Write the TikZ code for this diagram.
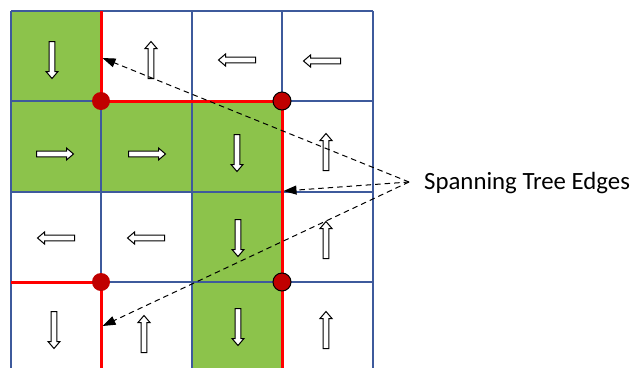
\documentclass[tikz,border=0pt]{standalone}
\usepackage{fontspec}
\setmainfont{Carlito}
\usetikzlibrary{arrows.meta}
\definecolor{gridblue}{RGB}{62,90,156}
\definecolor{cellgreen}{RGB}{140,195,75}
\definecolor{edgered}{RGB}{255,0,0}
\definecolor{dotred}{RGB}{192,0,0}
\tikzset{
  gridline/.style={draw=gridblue, line width=2pt},
  greencell/.style={fill=cellgreen},
  treeedge/.style={draw=edgered, line width=3pt},
  rootdot/.style={circle, fill=dotred, inner sep=0pt, minimum size=18pt},
  rimdot/.style={rootdot, draw=black, line width=1pt},
  pointer/.style={draw=black, line width=1pt, dash pattern=on 5.5pt off 4pt,
    -{Triangle[length=13pt,width=9pt]}},
  caption/.style={anchor=west, font=\fontsize{24.8}{29}\selectfont, inner sep=0pt},
  blockarrow/.pic={
    \draw[line width=1pt, fill=white]
      (-18.5,-2.8) -- (11.5,-2.8) -- (11.5,-6) -- (18.5,0) -- (11.5,6)
      -- (11.5,2.8) -- (-18.5,2.8) -- cycle;
  }
}
\begin{document}
\begin{tikzpicture}[x=1pt, y=-1pt]
  \useasboundingbox (0,0) rectangle (636,367);
  \clip (0,0) rectangle (636,367);

  % grid corner points g-i-j (column i, row j)
  \foreach \i/\x in {0/11,1/101,2/192,3/282,4/373}
    \foreach \j/\y in {0/11,1/101,2/192,3/282,4/373}
      \coordinate (g-\i-\j) at (\x,\y);

  % shaded cells
  \foreach \i/\j/\a/\b in {0/0/1/1,0/1/1/2,1/1/2/2,2/1/3/2,2/2/3/3,2/3/3/4}
    \fill[greencell] (g-\i-\j) rectangle (g-\a-\b);

  % cell borders
  \foreach \k in {0,...,4} {
    \draw[gridline] (g-\k-0) -- (g-\k-4);
    \draw[gridline] (g-0-\k) -- (g-4-\k);
  }

  % spanning tree edges
  \draw[treeedge] (g-1-0) -- (g-1-1) -- (g-3-1) -- (g-3-4);
  \draw[treeedge] (g-0-3) -- (g-1-3) -- (g-1-4);

  % direction arrows in the cells
  \pic[rotate=-90] at (52,60)   {blockarrow};
  \pic[rotate=90]  at (151,60)  {blockarrow};
  \pic[rotate=180] at (237,60)  {blockarrow};
  \pic[rotate=180] at (322,61)  {blockarrow};

  \pic             at (55,154)  {blockarrow};
  \pic             at (147,154) {blockarrow};
  \pic[rotate=-90] at (237,153) {blockarrow};
  \pic[rotate=90]  at (326,152) {blockarrow};

  \pic[rotate=180] at (56,238)  {blockarrow};
  \pic[rotate=180] at (146,238) {blockarrow};
  \pic[rotate=-90] at (238,238) {blockarrow};
  \pic[rotate=90]  at (326,240) {blockarrow};

  \pic[rotate=-90] at (54,330)  {blockarrow};
  \pic[rotate=90]  at (144,334) {blockarrow};
  \pic[rotate=-90] at (238,327) {blockarrow};
  \pic[rotate=90]  at (326,330) {blockarrow};

  % roots of the trees
  \node[rootdot] (d11) at (g-1-1) {};
  \node[rimdot]  (d31) at (g-3-1) {};
  \node[rootdot] (d13) at (g-1-3) {};
  \node[rimdot]  (d33) at (g-3-3) {};

  % label and its pointers
  \node[caption] (label) at (424,183) {Spanning Tree Edges};
  \coordinate (src) at (409,182);
  \coordinate (e1) at (102.5,58);
  \coordinate (e2) at (283.5,191);
  \coordinate (e3) at (102.5,326);
  \draw[pointer] (src) -- (e1);
  \draw[pointer] (src) -- (e2);
  \draw[pointer] (src) -- (e3);
\end{tikzpicture}
\end{document}
